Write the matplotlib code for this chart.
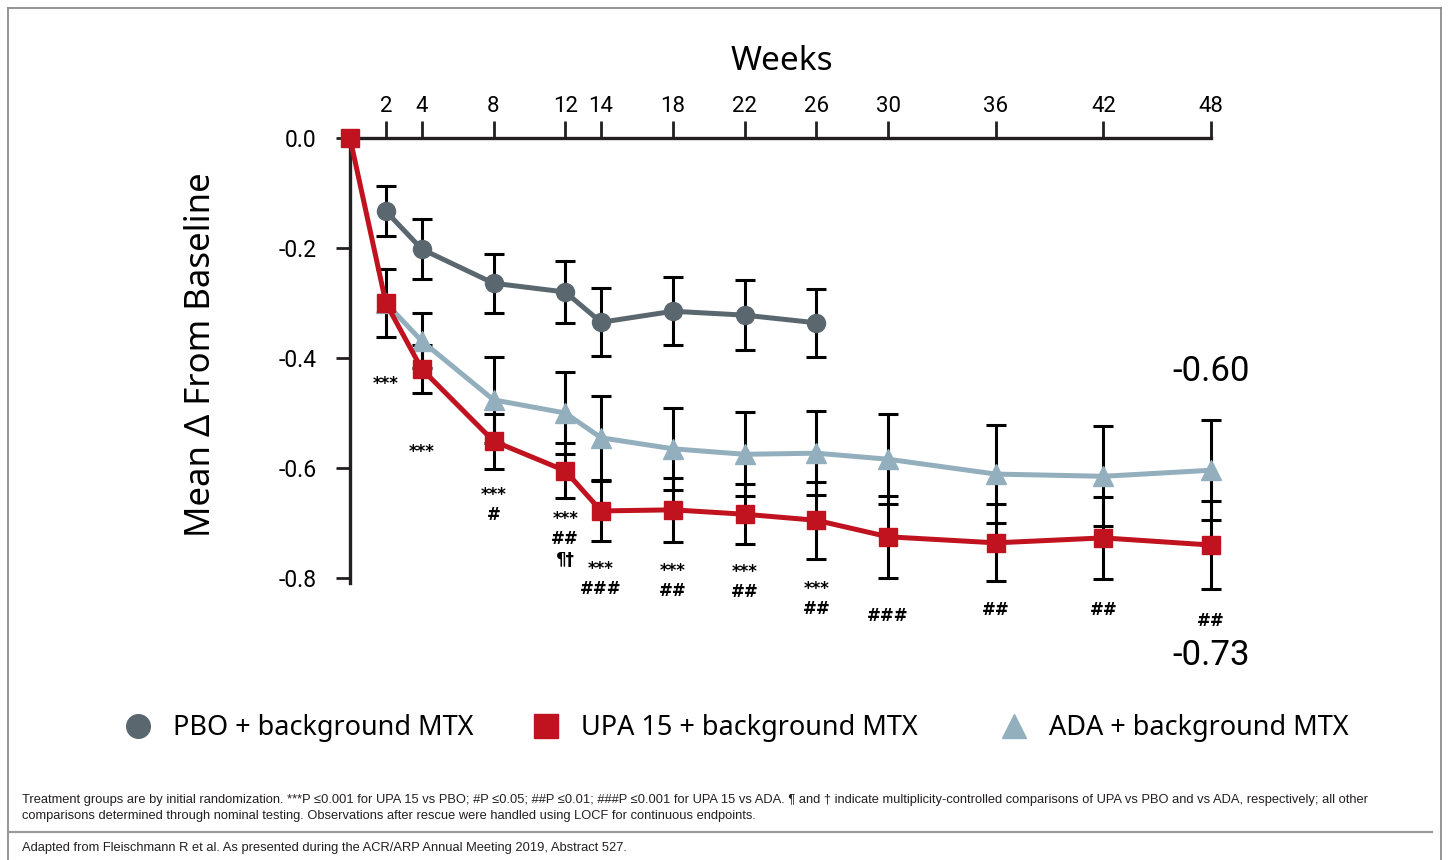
import matplotlib
matplotlib.use("Agg")
import matplotlib.pyplot as plt
from matplotlib.lines import Line2D

# data
weeks_pbo = [2, 4, 8, 12, 14, 18, 22, 26]
pbo = [-0.133, -0.202, -0.264, -0.280, -0.335, -0.315, -0.322, -0.336]
pbo_err = [0.045, 0.054, 0.054, 0.056, 0.062, 0.062, 0.063, 0.062]

weeks_upa = [0, 2, 4, 8, 12, 14, 18, 22, 26, 30, 36, 42, 48]
upa = [0.0, -0.300, -0.420, -0.551, -0.605, -0.678, -0.676, -0.684, -0.695, -0.725, -0.736, -0.727, -0.740]
upa_err = [0.0, 0.062, 0.044, 0.050, 0.050, 0.055, 0.058, 0.055, 0.070, 0.075, 0.070, 0.075, 0.080]

weeks_ada = [2, 4, 8, 12, 14, 18, 22, 26, 30, 36, 42, 48]
ada = [-0.300, -0.369, -0.476, -0.500, -0.545, -0.565, -0.575, -0.573, -0.584, -0.611, -0.615, -0.604]
ada_err = [0.0, 0.050, 0.078, 0.075, 0.076, 0.075, 0.076, 0.076, 0.082, 0.089, 0.091, 0.091]

week_ticks = [2, 4, 8, 12, 14, 18, 22, 26, 30, 36, 42, 48]
y_ticks = [0.0, -0.2, -0.4, -0.6, -0.8]

# significance marks under the points
annot_weeks = [2, 4, 8, 12, 14, 18, 22, 26, 30, 36, 42, 48]
annot_text = ["***", "***", "***\n#", "***\n##\n¶†", "***\n###", "***\n##",
              "***\n##", "***\n##", "###", "##", "##", "##"]
annot_y = [-0.430, -0.555, -0.632, -0.677, -0.767, -0.770, -0.772, -0.803,
           -0.852, -0.842, -0.842, -0.862]

end_labels = ["-0.60", "-0.73"]
end_y = [-0.425, -0.940]

PBO_C = "#5b676f"
UPA_C = "#c1121f"
ADA_C = "#93afbe"
INK = "#231f20"

W, H = 1450, 860
fig = plt.figure(figsize=(14.5, 8.6), dpi=100)


def fx(px):
    return px / W


def fy(py):
    return 1 - py / H


ax = fig.add_axes([fx(350), fy(583), fx(1211) - fx(350), fy(138) - fy(583)])
ax.set_xlim(0, 48)
ax.set_ylim(-0.809, 0)

for s in ["right", "bottom"]:
    ax.spines[s].set_visible(False)
for s in ["left", "top"]:
    ax.spines[s].set_linewidth(2.4)
    ax.spines[s].set_color(INK)

ax.xaxis.set_ticks_position("top")
ax.set_xticks(week_ticks)
ax.set_xticklabels([str(w) for w in week_ticks], family="Roboto", fontsize=16)
ax.tick_params(axis="x", direction="out", length=12, width=2, color=INK, pad=3)
ax.set_yticks(y_ticks)
ax.set_yticklabels([f"{v:.1f}" for v in y_ticks], family="Roboto", fontsize=16.5)
ax.tick_params(axis="y", direction="out", length=10, width=2, color=INK, pad=14)

# error bars first so the markers sit on top
for w, v, e in [(weeks_pbo, pbo, pbo_err), (weeks_upa[1:], upa[1:], upa_err[1:]),
                (weeks_ada[1:], ada[1:], ada_err[1:])]:
    eb = ax.errorbar(w, v, yerr=e, fmt="none", ecolor="black", elinewidth=2.2,
                     capsize=7, capthick=2.2, zorder=2)
    for art in eb.lines[1] + eb.lines[2]:
        art.set_clip_on(False)

ax.plot(weeks_ada, ada, color=ADA_C, lw=3.6, marker="^", ms=14, zorder=3, clip_on=False)
ax.plot(weeks_pbo, pbo, color=PBO_C, lw=3.6, marker="o", ms=13, zorder=3, clip_on=False)
ax.plot(weeks_upa, upa, color=UPA_C, lw=3.6, marker="s", ms=13, zorder=4, clip_on=False)

for w, t, y in zip(annot_weeks, annot_text, annot_y):
    ax.text(w, y, t, ha="center", va="top", fontsize=12, linespacing=1.15,
            fontweight="semibold", color="black", clip_on=False)

for t, y in zip(end_labels, end_y):
    ax.text(48, y, t, ha="center", va="center", family="Roboto", fontsize=25,
            color="black", clip_on=False)

fig.text(fx(782), fy(62), "Weeks", ha="center", va="center", family="Noto Sans",
         fontsize=24, color="black")
fig.text(fx(201), fy(355), "Mean Δ From Baseline", ha="center", va="center",
         rotation=90, family="Noto Sans", fontsize=25, color="black")

# legend, one entry at a time
entries = [("PBO + background MTX", PBO_C, "o", 111),
           ("UPA 15 + background MTX", UPA_C, "s", 519),
           ("ADA + background MTX", ADA_C, "^", 987)]
for label, c, m, x0 in entries:
    h = Line2D([], [], color=c, marker=m, ls="none", ms=17)
    fig.legend(handles=[h], labels=[label], loc="center left",
               bbox_to_anchor=(fx(x0), fy(728)), frameon=False,
               handlelength=1.0, handletextpad=0.8, borderpad=0,
               prop={"family": "Noto Sans", "size": 19.5})

# frame and footnotes
frame = dict(color="#8c8c8c", lw=1.3)
fig.add_artist(Line2D([fx(8), fx(1441)], [fy(8), fy(8)], **frame))
fig.add_artist(Line2D([fx(8), fx(8)], [fy(8), fy(860)], **frame))
fig.add_artist(Line2D([fx(1441), fx(1441)], [fy(8), fy(860)], **frame))
fig.add_artist(Line2D([fx(8), fx(1432)], [fy(832), fy(832)], color="#9a9a9a", lw=1.6))

foot1 = ("Treatment groups are by initial randomization. ***P \u22640.001 for UPA 15 vs PBO; "
         "#P \u22640.05; ##P \u22640.01; ###P \u22640.001 for UPA 15 vs ADA. \u00b6 and \u2020 "
         "indicate multiplicity-controlled comparisons of UPA vs PBO and vs ADA, respectively; all other")
foot2 = ("comparisons determined through nominal testing. Observations after rescue were "
         "handled using LOCF for continuous endpoints.")
foot3 = "Adapted from Fleischmann R et al. As presented during the ACR/ARP Annual Meeting 2019, Abstract 527."
for t, py in [(foot1, 800), (foot2, 816), (foot3, 848)]:
    fig.text(fx(22), fy(py), t, ha="left", va="center", family="Liberation Sans",
             fontsize=9.3, color="#231f20")

fig.savefig("out.png", dpi=100)
